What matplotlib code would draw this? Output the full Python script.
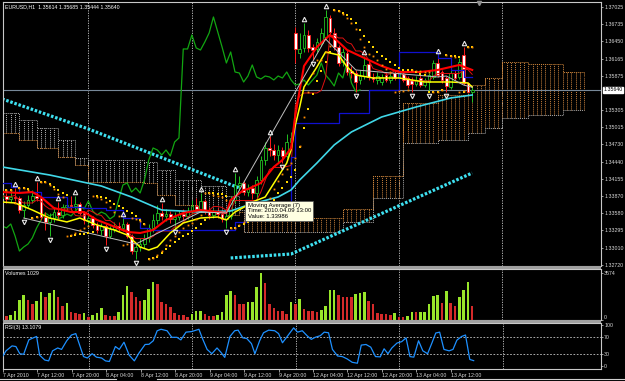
import numpy as np
import pandas as pd
import matplotlib
matplotlib.use('Agg')
import matplotlib.pyplot as plt
import matplotlib.transforms as mtrans
from matplotlib.patches import Rectangle
from matplotlib.lines import Line2D

plt.rcParams['font.family'] = ['Liberation Sans', 'DejaVu Sans']

# EURUSD H1, bar 0 = 7 Apr 2010 04:00, last bar = 13 Apr 2010 17:00
opens = [1.33837, 1.33871, 1.33821, 1.33854, 1.33837, 1.33637, 1.33720, 1.33804, 1.33871, 1.33837,
         1.33520, 1.33437, 1.33503, 1.33603, 1.33553, 1.33687, 1.33720, 1.33703, 1.33737, 1.33587,
         1.33470, 1.33503, 1.33387, 1.33303, 1.33370, 1.33203, 1.33320, 1.33370, 1.33337, 1.33403,
         1.33203, 1.32952, 1.33019, 1.33069, 1.33170, 1.33337, 1.33470, 1.33587, 1.33537, 1.33570,
         1.33487, 1.33520, 1.33570, 1.33537, 1.33620, 1.33703, 1.33653, 1.33787, 1.33620, 1.33553,
         1.33603, 1.33570, 1.33487, 1.33537, 1.33804, 1.34054, 1.34088, 1.33937, 1.34004, 1.33921,
         1.34138, 1.34471, 1.34672, 1.34638, 1.34555, 1.34638, 1.34538, 1.34772, 1.36591, 1.36257,
         1.36341, 1.36558, 1.36357, 1.36324, 1.36424, 1.36524, 1.36841, 1.36591, 1.36357, 1.36107,
         1.36257, 1.35957, 1.35923, 1.35807, 1.35873, 1.36074, 1.35857, 1.35807, 1.35773, 1.35890,
         1.35807, 1.35923, 1.35840, 1.35907, 1.35840, 1.35807, 1.35740, 1.35840, 1.35723, 1.35773,
         1.35857, 1.36090, 1.35940, 1.35840, 1.35690, 1.35923, 1.35857, 1.36224, 1.35757, 1.35614]
highs = [1.33971, 1.33921, 1.33971, 1.34004, 1.33871, 1.33787, 1.33887, 1.33971, 1.34104, 1.33887,
         1.33603, 1.33587, 1.33687, 1.33770, 1.33737, 1.33804, 1.33871, 1.33871, 1.33770, 1.33620,
         1.33570, 1.33537, 1.33437, 1.33420, 1.33403, 1.33370, 1.33437, 1.33437, 1.33503, 1.33437,
         1.33236, 1.33069, 1.33170, 1.33236, 1.33403, 1.33570, 1.33720, 1.33754, 1.33653, 1.33620,
         1.33603, 1.33637, 1.33653, 1.33687, 1.33804, 1.33837, 1.33921, 1.33821, 1.33687, 1.33653,
         1.33670, 1.33620, 1.33587, 1.33871, 1.34254, 1.34204, 1.34138, 1.34071, 1.34054, 1.34204,
         1.34538, 1.34772, 1.34872, 1.34738, 1.34722, 1.34688, 1.34905, 1.34939, 1.36691, 1.36591,
         1.36758, 1.36641, 1.36407, 1.36508, 1.36675, 1.36975, 1.36891, 1.36675, 1.36391, 1.36341,
         1.36307, 1.36040, 1.35974, 1.35974, 1.36207, 1.36140, 1.35923, 1.35940, 1.35907, 1.35940,
         1.35940, 1.35974, 1.35974, 1.35974, 1.35873, 1.35857, 1.35873, 1.35890, 1.35840, 1.35923,
         1.36140, 1.36224, 1.35974, 1.35873, 1.35974, 1.35974, 1.36174, 1.36357, 1.35773, 1.35685]
lows = [1.33770, 1.33754, 1.33770, 1.33787, 1.33587, 1.33503, 1.33670, 1.33754, 1.33787, 1.33470,
        1.33303, 1.33203, 1.33437, 1.33487, 1.33503, 1.33620, 1.33637, 1.33653, 1.33553, 1.33403,
        1.33403, 1.33337, 1.33253, 1.33220, 1.33053, 1.33170, 1.33270, 1.33286, 1.33286, 1.33170,
        1.32902, 1.32819, 1.32952, 1.33003, 1.33103, 1.33270, 1.33403, 1.33470, 1.33453, 1.33420,
        1.33337, 1.33470, 1.33470, 1.33487, 1.33570, 1.33587, 1.33603, 1.33570, 1.33487, 1.33503,
        1.33503, 1.33437, 1.33337, 1.33487, 1.33754, 1.33971, 1.33887, 1.33871, 1.33821, 1.33821,
        1.34071, 1.34388, 1.34538, 1.34471, 1.34438, 1.34421, 1.34505, 1.34705, 1.36090, 1.36174,
        1.36274, 1.36274, 1.36140, 1.36274, 1.36374, 1.36491, 1.36574, 1.36307, 1.36040, 1.36040,
        1.35890, 1.35840, 1.35606, 1.35740, 1.35823, 1.35807, 1.35773, 1.35740, 1.35723, 1.35773,
        1.35757, 1.35807, 1.35807, 1.35773, 1.35673, 1.35606, 1.35706, 1.35690, 1.35690, 1.35606,
        1.35823, 1.35857, 1.35757, 1.35606, 1.35656, 1.35807, 1.35823, 1.35723, 1.35606, 1.35444]
closes = [1.33887, 1.33821, 1.33854, 1.33837, 1.33637, 1.33720, 1.33804, 1.33871, 1.33837, 1.33520,
          1.33437, 1.33503, 1.33603, 1.33553, 1.33687, 1.33720, 1.33703, 1.33737, 1.33587, 1.33470,
          1.33503, 1.33387, 1.33303, 1.33370, 1.33203, 1.33320, 1.33370, 1.33337, 1.33403, 1.33203,
          1.32952, 1.33019, 1.33069, 1.33170, 1.33337, 1.33470, 1.33587, 1.33537, 1.33570, 1.33487,
          1.33520, 1.33570, 1.33537, 1.33620, 1.33703, 1.33653, 1.33787, 1.33620, 1.33553, 1.33603,
          1.33570, 1.33487, 1.33537, 1.33804, 1.34054, 1.34088, 1.33937, 1.34004, 1.33921, 1.34138,
          1.34471, 1.34672, 1.34638, 1.34555, 1.34638, 1.34538, 1.34772, 1.34839, 1.36324, 1.36324,
          1.36558, 1.36341, 1.36307, 1.36441, 1.36591, 1.36858, 1.36608, 1.36357, 1.36090, 1.36274,
          1.35940, 1.35923, 1.35773, 1.35873, 1.36057, 1.35857, 1.35823, 1.35873, 1.35857, 1.35807,
          1.35873, 1.35840, 1.35940, 1.35807, 1.35723, 1.35740, 1.35807, 1.35723, 1.35807, 1.35890,
          1.36090, 1.35890, 1.35807, 1.35706, 1.35923, 1.35840, 1.36107, 1.35757, 1.35614, 1.35640]
volumes = [524, 286, 357, 715, 1549, 1906, 1549, 1191, 1477, 2097,
           1787, 2025, 2288, 1787, 1072, 1263, 643, 548, 429, 548,
           238, 405, 524, 906, 405, 286, 286, 596, 1906, 2574,
           2097, 1787, 1477, 1549, 2383, 2860, 2740, 1382, 1191, 953,
           548, 405, 357, 191, 477, 667, 715, 429, 286, 286,
           357, 643, 1906, 2192, 1906, 1239, 1191, 1358, 1382, 2502,
           3574, 2812, 1191, 906, 715, 667, 477, 1382, 1191, 1620,
           834, 715, 667, 643, 763, 1072, 2264, 2264, 1906, 1787,
           1787, 1787, 1978, 2025, 2097, 1477, 1191, 548, 477, 477,
           405, 548, 238, 238, 286, 643, 596, 643, 643, 1191,
           1835, 1906, 1311, 2192, 1311, 1072, 1787, 2311, 2860, 1029]

# moving averages (bar, price)
ma7_bars = [0, 4, 7, 9, 12, 16, 19, 22, 25, 29, 32, 35, 38, 42, 46, 50, 52, 53, 56, 57, 60, 63, 65, 67,
            68, 69, 70, 73, 76, 78, 80, 83, 85, 88, 92, 97, 101, 106, 109]
ma7_vals = [1.33937, 1.33921, 1.33937, 1.33854, 1.33670, 1.33603, 1.33603, 1.33470, 1.33387, 1.33270,
            1.33253, 1.33303, 1.33470, 1.33587, 1.33637, 1.33603, 1.33587, 1.33804, 1.33971, 1.33986,
            1.34088, 1.34355, 1.34471, 1.34672, 1.35222, 1.35640, 1.36040, 1.36357, 1.36558, 1.36441,
            1.36307, 1.36207, 1.36140, 1.36040, 1.35940, 1.35940, 1.35974, 1.36057, 1.35974]
yel_bars = [0, 3, 7, 11, 15, 18, 22, 26, 29, 32, 34, 36, 39, 42, 46, 50, 52, 54, 57, 58, 61, 66, 67,
            68, 69, 70, 73, 75, 78, 80, 82, 86, 92, 98, 104, 108, 109]
yel_vals = [1.33770, 1.33754, 1.33637, 1.33503, 1.33437, 1.33503, 1.33387, 1.33303, 1.33220, 1.33019,
            1.32969, 1.33019, 1.33253, 1.33420, 1.33503, 1.33520, 1.33470, 1.33603, 1.33720, 1.33770,
            1.33854, 1.34421, 1.34638, 1.35055, 1.35356, 1.35690, 1.36024, 1.36274, 1.36224, 1.36024,
            1.35890, 1.35840, 1.35840, 1.35773, 1.35773, 1.35757, 1.35690]
cyan_bars = [0, 11, 23, 30, 37, 46, 53, 57, 64, 67, 69, 73, 77, 81, 88, 96, 104, 109]
cyan_vals = [1.34355, 1.34221, 1.34037, 1.33854, 1.33637, 1.33603, 1.33620, 1.33720, 1.33854, 1.33971,
             1.34138, 1.34421, 1.34722, 1.34939, 1.35189, 1.35356, 1.35506, 1.35556]
kijun_bars = [0, 2, 4, 9, 15, 19, 24, 28, 32, 34, 54, 57, 60, 63, 65, 67, 68, 78, 85, 92, 101, 104, 107, 109]
kijun_vals = [1.34088, 1.34020, 1.33937, 1.33854, 1.33687, 1.33670, 1.33637, 1.33503, 1.33337, 1.33303,
              1.33437, 1.33470, 1.33587, 1.33637, 1.33687, 1.34521, 1.35089, 1.35256, 1.35640, 1.36274,
              1.36174, 1.35974, 1.35857, 1.35857]
dots1_bars = [0, 20, 55]
dots1_vals = [1.35490, 1.34989, 1.34004]
dots2_bars = [53, 67, 109]
dots2_vals = [1.32836, 1.32902, 1.34254]

# ichimoku cloud (step values)
cloud_bars = [0, 4, 8, 13, 17, 20, 33, 36, 40, 46, 52, 55, 56, 78, 79, 86, 93, 101, 108, 112, 116, 122, 130, 135]
span_a = [1.34922, 1.34805, 1.34672, 1.34521, 1.34388, 1.34104, 1.34088, 1.33887, 1.33720, 1.33603,
          1.33553, 1.33603, 1.33503, 1.33503, 1.33653, 1.34204, 1.35423, 1.35556, 1.35723, 1.35840,
          1.36107, 1.36074, 1.35940, 1.35857]
span_b = [1.35256, 1.35139, 1.35005, 1.34805, 1.34505, 1.34471, 1.34438, 1.34304, 1.34138, 1.34037,
          1.33871, 1.33637, 1.33270, 1.33303, 1.33437, 1.33837, 1.34755, 1.34805, 1.34922, 1.35005,
          1.35172, 1.35222, 1.35306, 1.35306]

zz_bars = [5, 31, 46, 52, 75, 82, 101, 103, 107, 109]
fr_up = [3, 8, 13, 17, 28, 37, 46, 54, 62, 70, 75, 84, 101, 107]
fr_dn = [5, 11, 24, 31, 40, 52, 65, 72, 82, 95, 99, 103]

rsi_bars = [0, 0.7, 2.1, 3.0, 3.9, 4.8, 6.0, 6.7, 7.8, 8.5, 9.7, 10.6, 11.5, 12.7, 13.6, 14.8, 15.9, 16.9,
            17.8, 18.7, 19.6, 20.7, 21.7, 22.9, 23.8, 24.7, 26.1, 27.0, 28.1, 29.3, 30.5, 31.6, 33.0, 33.9,
            34.9, 35.8, 36.7, 38.1, 39.2, 40.4, 41.3, 42.5, 43.8, 45.5, 46.4, 47.4, 48.5, 49.7, 50.6, 51.5,
            52.7, 53.8, 54.6, 55.7, 56.6, 57.7, 58.5, 59.6, 60.5, 61.7, 63.1, 64.0, 64.9, 66.0, 67.5, 68.4,
            69.5, 70.6, 71.6, 72.5, 73.7, 74.6, 75.6, 76.5, 77.7, 78.8, 79.9, 81.1, 82.3, 83.2, 84.3, 85.4,
            86.5, 87.6, 88.5, 89.4, 90.3, 91.5, 92.6, 93.6, 94.5, 95.4, 96.5, 97.5, 98.6, 99.6, 100.5,
            101.4, 102.4, 103.6, 104.5, 105.4, 106.5, 107.4, 108.4, 109.3]
rsi_vals = [25, 37, 49, 47.5, 30, 28.6, 63.7, 67.2, 72, 26.5, 14.6, 12.5, 37, 44, 40.5, 61.6, 75.6, 79,
            51, 23, 19.5, 30, 21.6, 19.5, 12.5, 11, 47.5, 40.5, 58, 26.5, 12.5, 32, 52.5, 53, 61.6, 86,
            89.6, 86, 70, 70, 63.7, 82.6, 84, 89.6, 65, 40.5, 30, 44, 33.5, 21, 72, 86, 87.5, 68.6, 67.2,
            54.6, 30, 61.6, 81, 87.5, 86, 79, 56.7, 72, 93, 82.6, 86, 74, 65, 70, 74, 82.6, 81, 40.5,
            24.4, 23, 17.4, 9, 6.8, 51, 52.5, 46, 23, 22.3, 42, 30, 44, 56, 59.5, 68.6, 23, 21.6, 61.6,
            37, 30, 56, 80.5, 82.6, 40.5, 37, 40.5, 63, 72, 75.6, 16, 13.1]

time_ticks = [0, 8, 16, 24, 32, 40, 48, 56, 64, 72, 80, 88, 96, 104]
time_labels = ['7 Apr 2010', '7 Apr 12:00', '7 Apr 20:00', '8 Apr 04:00', '8 Apr 12:00', '8 Apr 20:00',
               '9 Apr 04:00', '9 Apr 12:00', '9 Apr 20:00', '12 Apr 04:00', '12 Apr 12:00',
               '12 Apr 20:00', '13 Apr 04:00', '13 Apr 12:00']
day_breaks = [20, 44, 68, 92, 116]
price_ticks = [1.37025, 1.36735, 1.36450, 1.36165, 1.35875, 1.35305, 1.35015, 1.34730, 1.34440,
               1.34155, 1.33870, 1.33580, 1.33295, 1.33010, 1.32720]
last_price = 1.35640

o = np.array(opens); h = np.array(highs); l = np.array(lows); c = np.array(closes)
bars = np.arange(len(o))
fs = 3.8


def psar(high, low, step, maxstep):
    n = len(high)
    out = np.zeros(n)
    bull = False
    af = step
    ep = low[0]
    out[0] = high[0]
    for i in range(1, n):
        s = out[i-1] + af * (ep - out[i-1])
        if bull:
            s = min(s, low[i-1], low[max(i-2, 0)])
            if low[i] < s:
                bull, s, ep, af = False, ep, low[i], step
            elif high[i] > ep:
                ep = high[i]
                af = min(af + step, maxstep)
        else:
            s = max(s, high[i-1], high[max(i-2, 0)])
            if high[i] > s:
                bull, s, ep, af = True, ep, high[i], step
            elif low[i] < ep:
                ep = low[i]
                af = min(af + step, maxstep)
        out[i] = s
    return out


fig = plt.figure(figsize=(6.25, 3.81), dpi=100, facecolor='black')
ax = fig.add_axes([3/625, 115/381, 598/625, 264/381])
axv = fig.add_axes([3/625, 61/381, 598/625, 51/381])
axr = fig.add_axes([3/625, 12/381, 598/625, 46/381])

fg = '#d8d8d8'
for a in (ax, axv, axr):
    a.set_facecolor('black')
    a.set_xlim(0.2, 138.87)
    for sp in a.spines.values():
        sp.set_color('#c8c8c8')
        sp.set_linewidth(0.8)
    a.yaxis.tick_right()
    a.tick_params(axis='y', direction='out', length=1.5, width=0.5, colors=fg, labelsize=fs, pad=0.8)
    a.tick_params(axis='x', bottom=False, labelbottom=False)
    for b in day_breaks:
        a.axvline(b, color='#c8c8c8', lw=0.6, ls=(0, (1.5, 1.5)), zorder=1)

# --- main panel ---
ax.set_ylim(1.32702, 1.37108)

# cloud
cb = np.array(cloud_bars)
sa = np.array(span_a); sb = np.array(span_b)
allb = np.arange(0, cloud_bars[-1] + 1)
k = np.searchsorted(cb, allb, side='right') - 1
ab, bb = sa[k], sb[k]
up = ab >= bb
ax.vlines(allb[up], bb[up], ab[up], colors='#c8803c', lw=0.7, linestyles=(0, (1, 1)), zorder=1)
ax.vlines(allb[~up], ab[~up], bb[~up], colors='#b4b4b4', lw=0.7, linestyles=(0, (1, 1)), zorder=1)
ax.step(cb, sa, where='post', color='#d2883c', lw=0.7, ls=(0, (1, 1)), zorder=1)
ax.step(cb, sb, where='post', color='#a8a8a8', lw=0.7, ls=(0, (1, 1)), zorder=1)

ax.axhline(last_price, color='#778899', lw=0.8, zorder=2)

# big cyan dotted lines
for xb, yv in ((dots1_bars, dots1_vals), (dots2_bars, dots2_vals)):
    ax.plot(xb, yv, color='#3ee0f0', lw=2.3, ls=(0, (0.8, 0.55)), zorder=2)

# chikou
ax.plot(bars - 26, c, color='#12a612', lw=0.9, zorder=2)

# candles
bull = c >= o
ax.vlines(bars, l, h, colors=np.where(bull, '#22c022', '#ff1a1a'), lw=0.7, zorder=3)
ax.bar(bars, np.maximum(np.abs(c - o), 0.00005), bottom=np.minimum(o, c), width=0.62,
       color=np.where(bull, 'black', 'white'), edgecolor=np.where(bull, '#22c022', '#ff1a1a'),
       linewidth=0.6, zorder=3)

# indicator lines
tenkan = (pd.Series(h).rolling(9, min_periods=1).max() + pd.Series(l).rolling(9, min_periods=1).min()) / 2
ax.plot(bars, tenkan, color='#e01010', lw=0.7, zorder=4)
ax.plot(kijun_bars, kijun_vals, color='#1010d0', lw=0.9, drawstyle='steps-post', zorder=4)
ax.plot(cyan_bars, cyan_vals, color='#40d8e8', lw=1.2, zorder=4)
ax.plot(yel_bars, yel_vals, color='#ffff00', lw=1.1, zorder=4)
ax.plot(ma7_bars, ma7_vals, color='#ff0000', lw=1.5, zorder=4)

# zigzag
zz_y = [l[b] if i % 2 == 0 else h[b] for i, b in enumerate(zz_bars)]
ax.plot(zz_bars, zz_y, color='#c0c0c0', lw=0.7, zorder=4)

# parabolic sar
sar1 = psar(h, l, 0.02, 0.2)
sar2 = psar(h, l, 0.03, 0.3)
ax.plot(bars, sar1, ls='none', marker='s', ms=1.9, color='#ffd700', mew=0, zorder=5)
ax.plot(bars, sar2, ls='none', marker='s', ms=1.3, color='#ff8c00', mew=0, zorder=5)

# fractals
ax.plot(fr_up, h[fr_up] + 0.0007, ls='none', marker='^', ms=3.2, mfc='none', mec='#e8e8e8', mew=0.8, zorder=6)
ax.plot(fr_dn, l[fr_dn] - 0.0007, ls='none', marker='v', ms=3.2, mfc='none', mec='#e8e8e8', mew=0.8, zorder=6)

ax.set_yticks(price_ticks)
ax.set_yticklabels(['%.5f' % p for p in price_ticks])
trans = mtrans.blended_transform_factory(ax.transAxes, ax.transData)
ax.text(1.004, last_price, '%.5f' % last_price, transform=trans, fontsize=fs, color='black',
        ha='left', va='center', bbox=dict(boxstyle='square,pad=0.1', fc='white', ec='white'), zorder=7,
        clip_on=False)
ax.text(0.004, 0.992, 'EURUSD,H1  %.5f %.5f %.5f %.5f' % (o[-1], h[-1], l[-1], c[-1]),
        transform=ax.transAxes, fontsize=fs, color='white', ha='left', va='top')
ax.text(56.9, 1.33754, 'Moving Average (7)\nTime: 2010.04.09 13:00\nValue: 1.33986', fontsize=4.3,
        color='black', ha='left', va='top', linespacing=1.1, zorder=8,
        bbox=dict(boxstyle='square,pad=0.35', fc='#ffffe1', ec='#505050', lw=0.5))
tr2 = mtrans.blended_transform_factory(ax.transData, ax.transAxes)
ax.plot([110.6], [0.997], transform=tr2, marker='v', ms=3, color='#909090', clip_on=False, zorder=8)

# --- volumes ---
vol = np.array(volumes)
vcol = []
for i, v in enumerate(vol):
    if i == 0:
        vcol.append('#d42a2a')
    elif v > vol[i-1]:
        vcol.append('#98e62a')
    elif v < vol[i-1]:
        vcol.append('#d42a2a')
    else:
        vcol.append(vcol[-1])
axv.bar(bars, vol, width=0.6, color=vcol, zorder=3)
axv.set_ylim(0, 3574 * 51 / 47)
axv.set_yticks([0, 3574])
axv.set_yticklabels(['0', '3574'])
axv.get_yticklabels()[0].set_va('bottom')
axv.text(0.004, 0.96, 'Volumes %d' % vol[-1], transform=axv.transAxes, fontsize=fs, color='white',
         ha='left', va='top')

# --- rsi ---
axr.set_ylim(-7.3, 104.9)
for lv in (70, 30):
    axr.axhline(lv, color='#c8c8c8', lw=0.6, ls=(0, (2, 2)), zorder=1)
axr.plot(rsi_bars, rsi_vals, color='#1e90ff', lw=0.9, zorder=3)
axr.set_yticks([0, 30, 70, 100])
axr.set_yticklabels(['0', '30', '70', '100'])
axr.text(0.004, 0.96, 'RSI(3) %.4f' % 13.1079, transform=axr.transAxes, fontsize=fs, color='white',
         ha='left', va='top')
axr.tick_params(axis='x', bottom=True, labelbottom=True, direction='out', length=2, width=0.5,
                colors=fg, labelsize=fs, pad=1)
axr.set_xticks(time_ticks)
axr.set_xticklabels(time_labels)
for lab in axr.get_xticklabels():
    lab.set_ha('left')

# panel separators and bottom strip
fig.add_artist(Rectangle((3/625, 112/381), 598/625, 3/381, transform=fig.transFigure,
                         color='#a0a0a0', lw=0))
fig.add_artist(Rectangle((3/625, 58/381), 598/625, 3/381, transform=fig.transFigure,
                         color='#a0a0a0', lw=0))
fig.add_artist(Line2D([0, 116/625], [2/381, 2/381], transform=fig.transFigure, color='#d0d0d0', lw=0.8))
fig.add_artist(Line2D([157/625, 1], [2/381, 2/381], transform=fig.transFigure, color='#d0d0d0', lw=0.8))

fig.savefig('out.png', dpi=100, facecolor='black')
